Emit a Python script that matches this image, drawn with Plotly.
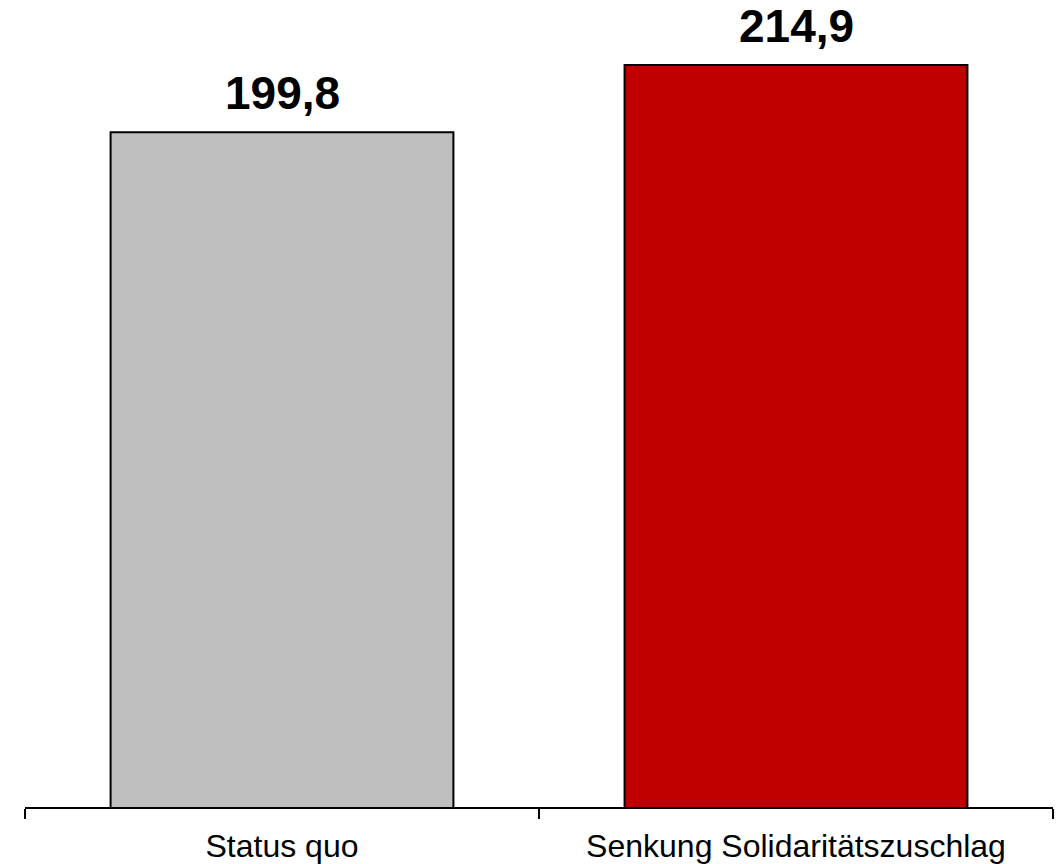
import plotly.graph_objects as go

categories = ["Status quo", "Senkung Solidaritätszuschlag"]
values = [199.8, 214.9]
colors = ["#BFBFBF", "#C00000"]
labels = [f"{v:.1f}".replace(".", ",") for v in values]

fig = go.Figure(
    go.Bar(
        x=categories,
        y=values,
        marker=dict(color=colors, line=dict(color="black", width=2)),
        width=0.667,
    )
)

for c, v, t in zip(categories, values, labels):
    fig.add_annotation(
        x=c, y=v, text=f"<b>{t}</b>", showarrow=False,
        yanchor="bottom", yshift=11,
        font=dict(family="Arial, Liberation Sans", size=46, color="black"),
    )

fig.update_layout(
    width=1056, height=864,
    margin=dict(l=25, r=3, t=0, b=57),
    plot_bgcolor="white", paper_bgcolor="white",
    showlegend=False,
    font=dict(family="Arial, Liberation Sans", color="black"),
)
fig.update_xaxes(
    type="category", tickson="boundaries",
    showline=True, linecolor="black", linewidth=2,
    ticks="outside", ticklen=10, tickwidth=2, tickcolor="black",
    tickfont=dict(size=32, color="black"), ticklabelstandoff=10,
    showgrid=False, zeroline=False,
)
fig.update_yaxes(
    range=[48.4, 229.5], visible=False, showgrid=False, zeroline=False,
)

fig.write_html("out.html")
